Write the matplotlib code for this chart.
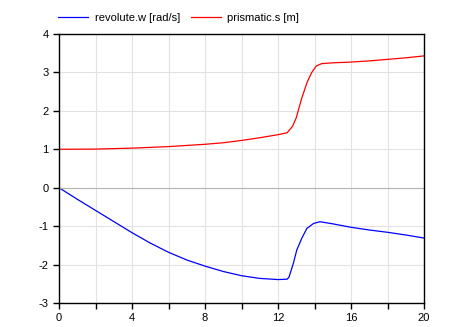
import numpy as np
import matplotlib
matplotlib.use("Agg")
import matplotlib.pyplot as plt
from matplotlib.ticker import MultipleLocator

plt.rcParams['font.family'] = ['Liberation Sans', 'DejaVu Sans']
plt.rcParams['axes.unicode_minus'] = False

# revolute.w [rad/s]
t_w = [0, 1, 2, 3, 4, 5, 6, 7, 8, 9, 10, 11, 12, 12.5, 12.6, 12.84, 13.03,
       13.3, 13.58, 13.95, 14.3, 15, 16, 17, 18, 19, 20]
w = [0, -0.3, -0.59, -0.88, -1.17, -1.44, -1.68, -1.88, -2.04, -2.18, -2.29,
     -2.36, -2.39, -2.38, -2.33, -1.97, -1.62, -1.32, -1.06, -0.93, -0.885,
     -0.94, -1.03, -1.10, -1.16, -1.23, -1.31]

# prismatic.s [m]
t_s = [0, 2, 4, 6, 8, 9, 10, 11, 12, 12.5, 12.8, 13.0, 13.3, 13.6, 13.85,
       14.1, 14.4, 15, 16, 17, 18, 19, 20]
s = [1.0, 1.005, 1.03, 1.07, 1.13, 1.17, 1.23, 1.30, 1.38, 1.43, 1.60, 1.82,
     2.33, 2.75, 3.0, 3.17, 3.23, 3.25, 3.27, 3.30, 3.34, 3.38, 3.43]

fig = plt.figure(figsize=(4.49, 3.27), dpi=100)
ax = fig.add_axes([59 / 449, 1 - 303 / 327, 365 / 449, 269 / 327])

l1, = ax.plot(t_w, w, color="#0000ff", lw=0.9, label="revolute.w [rad/s]")
l2, = ax.plot(t_s, s, color="#ff0000", lw=0.9, label="prismatic.s [m]")

ax.set_xlim(0, 20)
ax.set_ylim(-3, 4)
ax.xaxis.set_major_locator(MultipleLocator(4))
ax.xaxis.set_minor_locator(MultipleLocator(2))
ax.yaxis.set_major_locator(MultipleLocator(1))
ax.grid(True, which="both", color="#e2e2e2", lw=0.8)
ax.axhline(0, color="#b4b4b4", lw=0.8)
ax.set_axisbelow(True)
ax.tick_params(which="both", direction="out", length=4, width=1, labelsize=8,
               colors="black")
for sp in ax.spines.values():
    sp.set_linewidth(1)
    sp.set_color("black")

fig.legend(handles=[l1, l2], loc="center left", bbox_to_anchor=(54 / 449, 1 - 18 / 327),
           ncol=2, frameon=False, fontsize=8, handlelength=2.7, columnspacing=1.0,
           handletextpad=0.55, borderaxespad=0)

fig.savefig("out.png", dpi=100)
